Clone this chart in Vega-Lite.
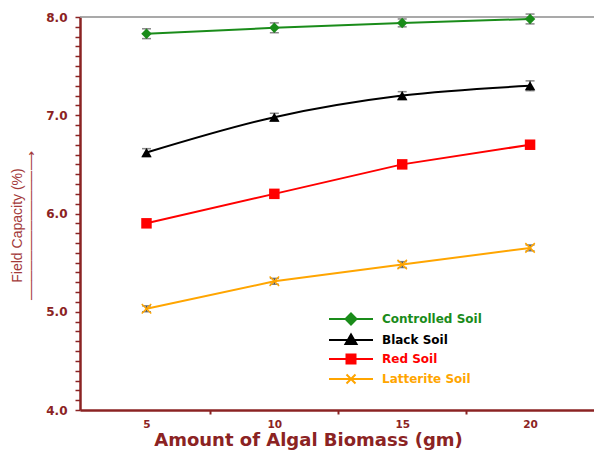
{
  "$schema": "https://vega.github.io/schema/vega-lite/v6.json",
  "width": 514,
  "height": 393,
  "autosize": "none",
  "padding": {"left": 80, "top": 17, "right": 0, "bottom": 44},
  "background": "white",
  "config": {
    "view": {"stroke": null},
    "axis": {"grid": false},
    "axisX": {
      "domainColor": "#8b2323", "domainWidth": 2.5,
      "tickColor": "#8b2323", "tickWidth": 2, "tickSize": 4,
      "labelColor": "#8b2323", "labelFont": "DejaVu Sans", "labelFontWeight": "bold", "labelFontSize": 10.5, "labelPadding": 5,
      "titleColor": "#8b2323", "titleFont": "DejaVu Sans", "titleFontWeight": "bold", "titleFontSize": 18, "titlePadding": 2, "titleX": 228
    },
    "axisY": {
      "domainColor": "#8b2323", "domainWidth": 2.5,
      "tickColor": "#8b2323", "tickWidth": 1.5, "tickSize": 5,
      "labelColor": "#8b2323", "labelFont": "DejaVu Sans", "labelFontWeight": "bold", "labelFontSize": 12, "labelPadding": 8,
      "titleColor": "#a33a3a", "titleFont": "Liberation Sans", "titleFontWeight": "normal", "titleFontSize": 14,
      "titleLineHeight": 14, "titleX": -56, "titleY": 208, "titleBaseline": "bottom"
    },
    "legend": {
      "title": null, "orient": "none", "legendX": 260, "legendY": 291, "symbolSize": 400, "labelOffset": 20, "rowPadding": 0, "padding": 0,
      "labelFont": "DejaVu Sans", "labelFontWeight": "bold", "labelFontSize": 12, "symbolStrokeWidth": 2
    }
  },
  "data": {"values": [
    {"soil": "Controlled Soil", "biomass": 5, "fc": 7.83, "err": 0.05},
    {"soil": "Controlled Soil", "biomass": 10, "fc": 7.89, "err": 0.05},
    {"soil": "Controlled Soil", "biomass": 15, "fc": 7.94, "err": 0.04},
    {"soil": "Controlled Soil", "biomass": 20, "fc": 7.98, "err": 0.05},
    {"soil": "Black Soil", "biomass": 5, "fc": 6.62, "err": 0.04},
    {"soil": "Black Soil", "biomass": 10, "fc": 6.98, "err": 0.04},
    {"soil": "Black Soil", "biomass": 15, "fc": 7.2, "err": 0.04},
    {"soil": "Black Soil", "biomass": 20, "fc": 7.3, "err": 0.05},
    {"soil": "Red Soil", "biomass": 5, "fc": 5.9, "err": 0.03},
    {"soil": "Red Soil", "biomass": 10, "fc": 6.2, "err": 0.03},
    {"soil": "Red Soil", "biomass": 15, "fc": 6.5, "err": 0.03},
    {"soil": "Red Soil", "biomass": 20, "fc": 6.7, "err": 0.03},
    {"soil": "Latterite Soil", "biomass": 5, "fc": 5.03, "err": 0.03},
    {"soil": "Latterite Soil", "biomass": 10, "fc": 5.31, "err": 0.03},
    {"soil": "Latterite Soil", "biomass": 15, "fc": 5.48, "err": 0.03},
    {"soil": "Latterite Soil", "biomass": 20, "fc": 5.65, "err": 0.03}
  ]},
  "layer": [
    {
      "data": {"values": [{"top": 8}]},
      "mark": {"type": "rule", "color": "#8c8c8c", "strokeWidth": 1.5},
      "encoding": {
        "y": {"field": "top", "type": "quantitative", "scale": {"domain": [4, 8], "nice": false, "zero": false},
          "axis": {"title": ["Field Capacity (%)", "─────────────⟶"], "values": [4, 4.1, 4.2, 4.3, 4.4, 4.5, 4.6, 4.7, 4.8, 4.9, 5, 5.1, 5.2, 5.3, 5.4, 5.5, 5.6, 5.7, 5.8, 5.9, 6, 6.1, 6.2, 6.3, 6.4, 6.5, 6.6, 6.7, 6.8, 6.9, 7, 7.1, 7.2, 7.3, 7.4, 7.5, 7.6, 7.7, 7.8, 7.9, 8], "labelExpr": "abs(datum.value - round(datum.value)) < 0.001 ? format(datum.value, '.1f') : ''"}}
      }
    },
    {
      "transform": [{"filter": "datum.soil !== 'Black Soil'"}],
      "mark": {"type": "line", "strokeWidth": 2},
      "encoding": {
        "x": {"field": "biomass", "type": "quantitative", "scale": {"domain": [2.4, 22.5], "nice": false, "zero": false},
          "axis": {"title": "Amount of Algal Biomass (gm)", "values": [5, 7.5, 10, 12.5, 15, 17.5, 20], "labelExpr": "datum.value % 5 === 0 ? datum.label : ''", "tickOpacity": {"condition": {"test": "datum.value % 5 === 0", "value": 0}, "value": 1}}},
        "y": {"field": "fc", "type": "quantitative",
          "axis": {"title": ["Field Capacity (%)", "─────────────⟶"], "values": [4, 4.1, 4.2, 4.3, 4.4, 4.5, 4.6, 4.7, 4.8, 4.9, 5, 5.1, 5.2, 5.3, 5.4, 5.5, 5.6, 5.7, 5.8, 5.9, 6, 6.1, 6.2, 6.3, 6.4, 6.5, 6.6, 6.7, 6.8, 6.9, 7, 7.1, 7.2, 7.3, 7.4, 7.5, 7.6, 7.7, 7.8, 7.9, 8], "labelExpr": "abs(datum.value - round(datum.value)) < 0.001 ? format(datum.value, '.1f') : ''"}},
        "color": {"field": "soil", "type": "nominal",
          "scale": {"domain": ["Controlled Soil", "Black Soil", "Red Soil", "Latterite Soil"], "range": ["#1a8c1a", "#000000", "#ff0000", "#ffa500"]},
          "legend": {
            "symbolType": {"expr": "datum.value === 'Controlled Soil' ? 'M-2.2,0H2.2M0,-0.55L0.55,0L0,0.55L-0.55,0Z' : datum.value === 'Black Soil' ? 'M-2.2,0H2.2M0,-0.55L0.55,0.4L-0.55,0.4Z' : datum.value === 'Red Soil' ? 'M-2.2,0H2.2M-0.45,-0.45H0.45V0.45H-0.45Z' : 'M-2.2,0H2.2M-0.45,-0.45L0.45,0.45M-0.45,0.45L0.45,-0.45'"},
            "encoding": {
              "labels": {"fill": {"value": {"expr": "scale('color', datum.value)"}}},
              "symbols": {
                "fill": {"value": {"expr": "datum.value === 'Latterite Soil' ? 'transparent' : scale('color', datum.value)"}},
                "stroke": {"value": {"expr": "scale('color', datum.value)"}}
              }
            }
          }
        }
      }
    },
    {
      "transform": [{"filter": "datum.soil === 'Black Soil'"}],
      "mark": {"type": "line", "strokeWidth": 2, "interpolate": "monotone", "color": "#000000"},
      "encoding": {
        "x": {"field": "biomass", "type": "quantitative",
          "axis": {"title": "Amount of Algal Biomass (gm)", "values": [5, 7.5, 10, 12.5, 15, 17.5, 20], "labelExpr": "datum.value % 5 === 0 ? datum.label : ''", "tickOpacity": {"condition": {"test": "datum.value % 5 === 0", "value": 0}, "value": 1}}},
        "y": {"field": "fc", "type": "quantitative",
          "axis": {"title": ["Field Capacity (%)", "─────────────⟶"], "values": [4, 4.1, 4.2, 4.3, 4.4, 4.5, 4.6, 4.7, 4.8, 4.9, 5, 5.1, 5.2, 5.3, 5.4, 5.5, 5.6, 5.7, 5.8, 5.9, 6, 6.1, 6.2, 6.3, 6.4, 6.5, 6.6, 6.7, 6.8, 6.9, 7, 7.1, 7.2, 7.3, 7.4, 7.5, 7.6, 7.7, 7.8, 7.9, 8], "labelExpr": "abs(datum.value - round(datum.value)) < 0.001 ? format(datum.value, '.1f') : ''"}}
      }
    },
    {
      "mark": {"type": "errorbar", "ticks": true, "color": "#555555", "size": 9, "thickness": 1.5},
      "encoding": {
        "x": {"field": "biomass", "type": "quantitative",
          "axis": {"title": "Amount of Algal Biomass (gm)", "values": [5, 7.5, 10, 12.5, 15, 17.5, 20], "labelExpr": "datum.value % 5 === 0 ? datum.label : ''", "tickOpacity": {"condition": {"test": "datum.value % 5 === 0", "value": 0}, "value": 1}}},
        "y": {"field": "fc", "type": "quantitative",
          "axis": {"title": ["Field Capacity (%)", "─────────────⟶"], "values": [4, 4.1, 4.2, 4.3, 4.4, 4.5, 4.6, 4.7, 4.8, 4.9, 5, 5.1, 5.2, 5.3, 5.4, 5.5, 5.6, 5.7, 5.8, 5.9, 6, 6.1, 6.2, 6.3, 6.4, 6.5, 6.6, 6.7, 6.8, 6.9, 7, 7.1, 7.2, 7.3, 7.4, 7.5, 7.6, 7.7, 7.8, 7.9, 8], "labelExpr": "abs(datum.value - round(datum.value)) < 0.001 ? format(datum.value, '.1f') : ''"}},
        "yError": {"field": "err"}
      }
    },
    {
      "transform": [{"filter": "datum.soil === 'Controlled Soil'"}],
      "mark": {"type": "point", "shape": "diamond", "filled": true, "size": 110, "opacity": 1, "color": "#1a8c1a"},
      "encoding": {
        "x": {"field": "biomass", "type": "quantitative",
          "axis": {"title": "Amount of Algal Biomass (gm)", "values": [5, 7.5, 10, 12.5, 15, 17.5, 20], "labelExpr": "datum.value % 5 === 0 ? datum.label : ''", "tickOpacity": {"condition": {"test": "datum.value % 5 === 0", "value": 0}, "value": 1}}},
        "y": {"field": "fc", "type": "quantitative",
          "axis": {"title": ["Field Capacity (%)", "─────────────⟶"], "values": [4, 4.1, 4.2, 4.3, 4.4, 4.5, 4.6, 4.7, 4.8, 4.9, 5, 5.1, 5.2, 5.3, 5.4, 5.5, 5.6, 5.7, 5.8, 5.9, 6, 6.1, 6.2, 6.3, 6.4, 6.5, 6.6, 6.7, 6.8, 6.9, 7, 7.1, 7.2, 7.3, 7.4, 7.5, 7.6, 7.7, 7.8, 7.9, 8], "labelExpr": "abs(datum.value - round(datum.value)) < 0.001 ? format(datum.value, '.1f') : ''"}}
      }
    },
    {
      "transform": [{"filter": "datum.soil === 'Black Soil'"}],
      "mark": {"type": "point", "shape": "triangle-up", "filled": true, "size": 110, "opacity": 1, "color": "#000000"},
      "encoding": {
        "x": {"field": "biomass", "type": "quantitative",
          "axis": {"title": "Amount of Algal Biomass (gm)", "values": [5, 7.5, 10, 12.5, 15, 17.5, 20], "labelExpr": "datum.value % 5 === 0 ? datum.label : ''", "tickOpacity": {"condition": {"test": "datum.value % 5 === 0", "value": 0}, "value": 1}}},
        "y": {"field": "fc", "type": "quantitative",
          "axis": {"title": ["Field Capacity (%)", "─────────────⟶"], "values": [4, 4.1, 4.2, 4.3, 4.4, 4.5, 4.6, 4.7, 4.8, 4.9, 5, 5.1, 5.2, 5.3, 5.4, 5.5, 5.6, 5.7, 5.8, 5.9, 6, 6.1, 6.2, 6.3, 6.4, 6.5, 6.6, 6.7, 6.8, 6.9, 7, 7.1, 7.2, 7.3, 7.4, 7.5, 7.6, 7.7, 7.8, 7.9, 8], "labelExpr": "abs(datum.value - round(datum.value)) < 0.001 ? format(datum.value, '.1f') : ''"}}
      }
    },
    {
      "transform": [{"filter": "datum.soil === 'Red Soil'"}],
      "mark": {"type": "point", "shape": "square", "filled": true, "size": 110, "opacity": 1, "color": "#ff0000"},
      "encoding": {
        "x": {"field": "biomass", "type": "quantitative",
          "axis": {"title": "Amount of Algal Biomass (gm)", "values": [5, 7.5, 10, 12.5, 15, 17.5, 20], "labelExpr": "datum.value % 5 === 0 ? datum.label : ''", "tickOpacity": {"condition": {"test": "datum.value % 5 === 0", "value": 0}, "value": 1}}},
        "y": {"field": "fc", "type": "quantitative",
          "axis": {"title": ["Field Capacity (%)", "─────────────⟶"], "values": [4, 4.1, 4.2, 4.3, 4.4, 4.5, 4.6, 4.7, 4.8, 4.9, 5, 5.1, 5.2, 5.3, 5.4, 5.5, 5.6, 5.7, 5.8, 5.9, 6, 6.1, 6.2, 6.3, 6.4, 6.5, 6.6, 6.7, 6.8, 6.9, 7, 7.1, 7.2, 7.3, 7.4, 7.5, 7.6, 7.7, 7.8, 7.9, 8], "labelExpr": "abs(datum.value - round(datum.value)) < 0.001 ? format(datum.value, '.1f') : ''"}}
      }
    },
    {
      "transform": [{"filter": "datum.soil === 'Latterite Soil'"}],
      "mark": {"type": "point", "shape": "M-1,-1L1,1M-1,1L1,-1", "filled": false, "size": 90, "opacity": 1, "strokeWidth": 1.5, "color": "#ffa500"},
      "encoding": {
        "x": {"field": "biomass", "type": "quantitative",
          "axis": {"title": "Amount of Algal Biomass (gm)", "values": [5, 7.5, 10, 12.5, 15, 17.5, 20], "labelExpr": "datum.value % 5 === 0 ? datum.label : ''", "tickOpacity": {"condition": {"test": "datum.value % 5 === 0", "value": 0}, "value": 1}}},
        "y": {"field": "fc", "type": "quantitative",
          "axis": {"title": ["Field Capacity (%)", "─────────────⟶"], "values": [4, 4.1, 4.2, 4.3, 4.4, 4.5, 4.6, 4.7, 4.8, 4.9, 5, 5.1, 5.2, 5.3, 5.4, 5.5, 5.6, 5.7, 5.8, 5.9, 6, 6.1, 6.2, 6.3, 6.4, 6.5, 6.6, 6.7, 6.8, 6.9, 7, 7.1, 7.2, 7.3, 7.4, 7.5, 7.6, 7.7, 7.8, 7.9, 8], "labelExpr": "abs(datum.value - round(datum.value)) < 0.001 ? format(datum.value, '.1f') : ''"}}
      }
    }
  ]
}
